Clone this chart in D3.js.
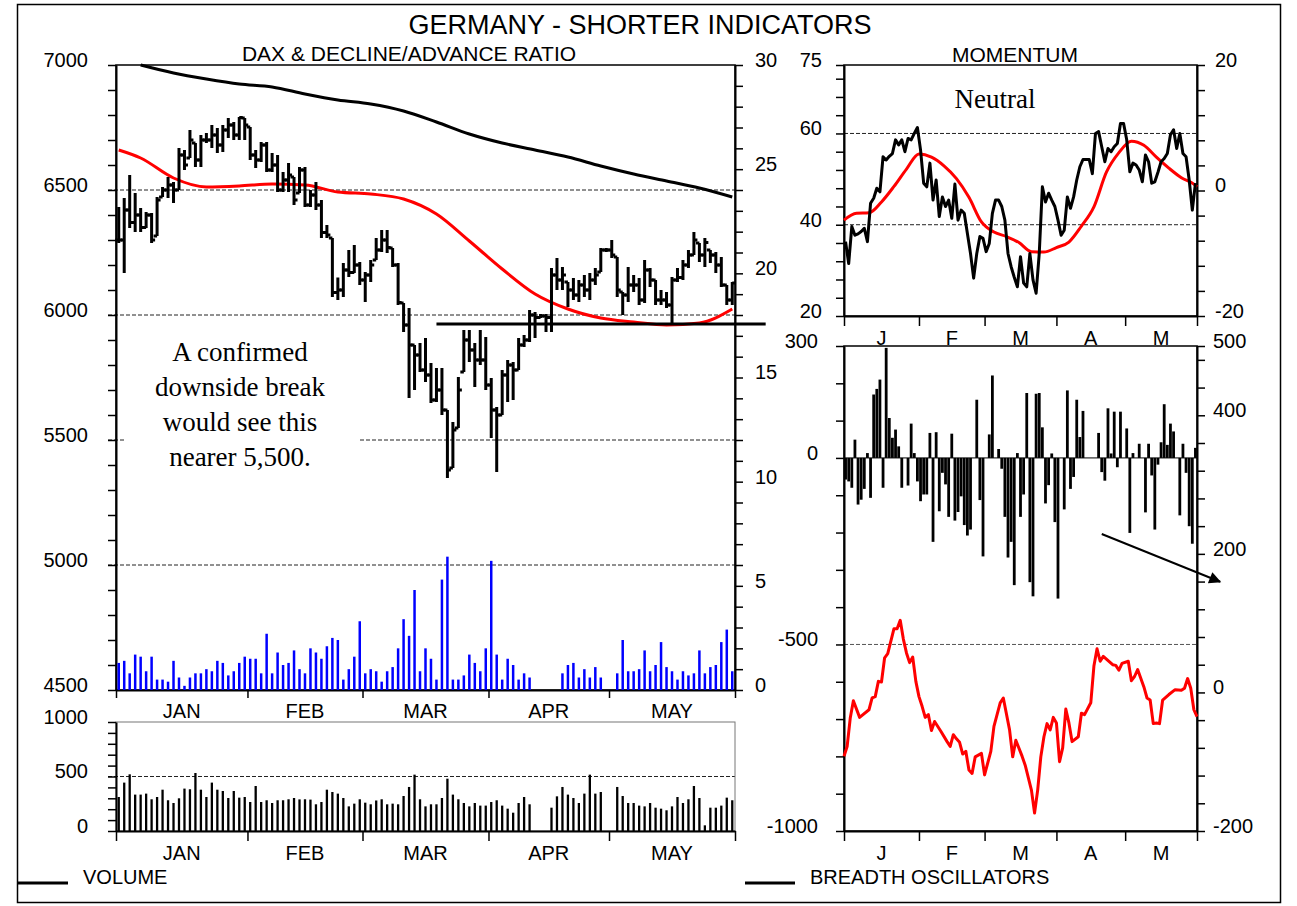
<!DOCTYPE html>
<html>
<head>
<meta charset="utf-8">
<script src="https://cdn.jsdelivr.net/npm/d3@7"></script>
<style>
  body { margin: 0; background: #fff; }
  svg text { font-family: "Liberation Sans", Arial, sans-serif; fill: #000; }
  .serif { font-family: "Liberation Serif", "Times New Roman", serif !important; }
</style>
</head>
<body>
<script>
// ---- data ----
var monthNames = ["JAN", "FEB", "MAR", "APR", "MAY"];
var monthLetters = ["J", "F", "M", "A", "M"];
var monthDays = [24, 21, 23, 22, 23];   // trading days per month

// DAX daily bars
var daxHigh = [6432,6468,6560,6488,6428,6412,6408,6472,6512,6552,6532,6668,6660,6740,6688,6720,6728,6760,6748,6760,
  6788,6772,6792,6788,6752,6660,6692,6692,6648,6640,6572,6608,6552,6592,6592,6500,6532,6460,6360,6308,
  6150,6208,6260,6280,6212,6172,6220,6308,6340,6340,6268,6208,6048,6028,5880,5888,5908,5808,5788,5788,
  5620,5572,5752,5940,5940,5888,5940,5912,5748,5632,5780,5820,5812,5908,5920,6020,6012,6004,6004,6188,
  6228,6192,6132,6148,6140,6160,6168,6188,6268,6268,6300,6232,6092,6192,6160,6148,6220,6188,6140,6100,
  6092,6152,6188,6220,6260,6332,6288,6308,6260,6252,6232,6120,6132];
var daxLow = [6288,6168,6348,6332,6332,6348,6288,6316,6472,6468,6448,6500,6580,6628,6592,6592,6688,6668,6648,6652,
  6708,6700,6700,6700,6620,6588,6612,6572,6572,6492,6492,6492,6440,6488,6432,6432,6420,6308,6308,6072,
  6060,6072,6152,6168,6120,6052,6132,6220,6252,6248,6192,6040,5932,5668,5700,5772,5732,5648,5652,5600,
  5348,5388,5548,5772,5812,5712,5800,5700,5508,5372,5600,5652,5660,5780,5872,5892,5908,5988,5932,5932,
  6100,6100,6032,6060,6052,6072,6060,6120,6172,6252,6228,6072,6000,6052,6092,6040,6048,6112,6040,6040,
  6028,5960,6132,6140,6188,6240,6212,6192,6208,6168,6112,6040,6040];
var daxClose = [6300,6420,6370,6400,6350,6400,6300,6460,6500,6520,6500,6640,6600,6700,6620,6700,6700,6720,6680,6740,
  6760,6720,6790,6760,6640,6620,6680,6580,6600,6500,6540,6560,6460,6580,6440,6480,6440,6330,6320,6090,
  6100,6180,6170,6200,6140,6160,6200,6260,6300,6270,6200,6050,5960,5880,5840,5780,5760,5660,5700,5620,
  5380,5540,5700,5900,5860,5820,5820,5720,5620,5600,5760,5800,5780,5880,5900,6000,5990,5996,5990,6160,
  6140,6160,6100,6080,6120,6100,6140,6160,6260,6260,6240,6100,6080,6120,6120,6060,6180,6140,6060,6060,
  6040,6140,6150,6200,6240,6300,6240,6290,6240,6200,6120,6060,6128];

// moving averages, sampled on these days
var maDays = [0,4,10,16,22,28,34,40,46,52,58,64,70,76,82,88,94,100,106,112];
var maLong = [null,7000,6968,6944,6924,6912,6884,6860,6844,6816,6772,6724,6688,6660,6632,6596,6564,6536,6508,6472];
var maShort = [6660,6628,6548,6512,6516,6524,6520,6492,6484,6464,6404,6296,6184,6084,6024,5988,5972,5960,5968,6024];

// support level
var supportLevel = 5964;
var supportFrom = 58.5, supportTo = 118.6;

// decline / advance ratio (right scale)
var daRatio = [1.3,1.4,0.8,1.7,1.6,0.9,1.6,0.5,0.5,0.4,1.4,0.6,
  0.2,0.6,0.8,0.8,1.0,0.9,1.4,1.3,0.7,0.9,1.3,1.6,1.5,1.5,0.8,2.7,0.8,1.8,1.2,1.3,1.9,1.0,
  0.8,2.0,1.8,1.5,2.1,2.5,2.4,0.5,1.0,1.6,3.3,0.8,1.0,0.9,
  0.4,0.9,1.1,2.0,3.4,2.6,4.8,0.9,2.0,1.5,0.5,5.3,6.4,0.5,0.5,0.7,1.7,1.3,0.9,2.0,6.2,1.7,0.5,1.5,1.2,0.5,0.8,0.6,
  null,null,null,null,null,
  0.8,1.2,1.3,0.6,1.0,0.6,1.1,0.6,null,null,
  0.8,2.4,0.9,0.9,1.0,1.9,0.9,1.2,2.3,1.1,0.9,0.5,0.9,0.7,0.8,1.9,0.8,1.1,1.2,2.3,2.9,0.9];

// volume
var volume = [312,444,520,334,334,343,291,312,379,282,257,300,
  389,383,532,379,312,444,379,367,303,367,306,312,266,413,266,282,257,282,282,291,303,290,
  291,288,245,266,379,358,343,303,226,251,291,260,245,280,
  291,245,251,245,321,404,517,291,226,245,245,303,480,334,291,257,226,257,233,233,266,282,233,205,168,257,312,245,
  null,null,null,
  214,318,404,334,303,257,343,517,343,358,null,null,
  404,321,257,257,233,226,257,214,205,190,226,312,257,291,413,303,52,214,214,233,306,282];

// momentum (left scale) and its average
var momentum = [36.3,31.5,39.6,37.7,38.0,38.5,39.2,36.3,44.7,45.8,
  48.0,47.2,54.9,54.2,55.0,55.6,58.6,57.5,58.6,56.0,
  58.9,58.6,60.0,61.3,56.4,49.1,48.3,53.5,45.4,49.8,
  41.8,46.1,44.0,45.4,41.4,48.9,41.0,43.2,42.5,38.1,
  33.7,28.3,33.7,37.4,37.0,34.1,35.9,42.5,45.4,45.4,
  44.0,41.0,33.7,30.8,28.5,26.4,33.0,27.2,26.4,33.7,
  27.9,25.0,33.7,48.3,45.0,46.9,45.4,44.0,41.0,37.7,
  38.8,46.1,43.6,46.1,49.8,52.7,54.3,54.3,54.3,51.2,
  60.0,60.4,57.1,53.8,56.7,56.0,57.1,57.8,62.2,62.2,
  58.6,51.6,53.5,53.1,52.0,49.4,55.3,53.8,49.1,49.4,
  51.5,53.8,54.5,55.6,59.7,60.8,56.7,60.0,55.6,54.9,
  49.8,43.2,49.1];
var momMaDays = [0,4,8,12,16,20,24,28,32,36,40,44,48,52,56,60,64,68,72,76,80,84,88,92,96,100,104,108,112,113];
var momMa = [41.0,42.5,42.6,45.0,48.4,52.2,55.5,54.8,52.9,50.1,46.0,40.6,38.4,37.4,36.1,34.1,34.0,35.0,36.2,39.7,
  43.9,51.5,55.8,58.3,57.4,54.8,52.4,50.3,48.9,48.3];

// daily breadth (bars, left scale)
var breadthBars = [-58,-63,-80,49,-125,-112,-83,13,-107,170,
  185,210,-80,295,107,54,76,31,-80,null,
  -74,92,13,-63,-116,-98,-98,67,-225,69,
  -143,-40,-71,-158,65,-168,-145,-103,-180,-208,
  -192,null,156,-113,-264,null,63,221,null,24,
  -29,-158,-267,-225,-341,13,-158,-98,174,-333,
  -371,172,174,82,-122,-73,12,-172,-377,null,
  -138,181,-83,-51,156,56,126,null,null,null,
  null,67,-38,-61,133,12,124,-25,124,null,
  79,-201,13,null,38,null,-146,38,-47,-192,
  -18,42,144,35,92,71,null,-154,38,-40,
  -183,-230,27];

// breadth oscillator (line, right scale)
var oscDays = [0,1,2,3,5,8,9,10,11,12,13,14,16,17,18,19,20,21,22,23,24,25,26,27,28,29,31,33,34,35,36,37,38,39,40,41,42,44,45,47,
  48,50,51,53,54,55,57,58,60,61,62,63,64,65,66,67,68,69,70,71,72,73,75,76,77,79,80,81,82,83,84,86,87,88,89,91,92,93,94,96,
  97,98,99,100,101,102,104,106,108,109,110,111,112,113];
var oscValues = [-92,-78,-37,-12,-36,-25,-8,-6,16,15,
  50,56,92,92,104,77,57,43,51,16,
  -6,-20,-36,-32,-55,-42,-56,-71,-78,-61,
  -67,-72,-89,-85,-112,-117,-93,-88,-119,-85,
  -49,-15,-8,-54,-93,-69,-92,-105,-141,-174,
  -141,-93,-64,-45,-54,-36,-44,-100,-80,-24,
  -44,-71,-64,-30,-32,-15,38,63,45,52,
  48,40,39,32,42,45,17,23,33,8,
  -8,-11,-45,-44,-45,-11,-3,4,3,6,
  20,6,-25,-35];

// downward arrow in the breadth panel: [day, value] on the left scale
var arrowFrom = [82.5, -204], arrowTo = [120.4, -332];

// ---- layout ----
var W = 1297, H = 906;
var main = {left: 116, right: 735, top: 65, bottom: 690};
var vol  = {left: 116, right: 735, top: 722, bottom: 831};
var mom  = {left: 844, right: 1197, top: 65, bottom: 316};
var brd  = {left: 844, right: 1197, top: 346, bottom: 831};

var monthStart = [0];
monthDays.forEach(function(n, i) { monthStart.push(monthStart[i] + n); });
var monthMid = monthDays.map(function(n, i) { return monthStart[i] + n / 2; });
var nDays = monthStart[monthStart.length - 1];

var svg = d3.select("body").append("svg")
    .attr("width", W)
    .attr("height", H);

svg.append("rect").attr("width", W).attr("height", H).attr("fill", "white");
svg.append("rect")
    .attr("x", 17.5).attr("y", 4.5)
    .attr("width", 1263).attr("height", 898)
    .attr("fill", "none").attr("stroke", "black").attr("stroke-width", 1.5);

// scales
var xMain = d3.scaleLinear().domain([0, nDays]).range([main.left, main.right]);
var xSide = d3.scaleLinear().domain([0, nDays]).range([mom.left, mom.right]);
var yDax = d3.scaleLinear().domain([4500, 7000]).range([main.bottom, main.top]);
var yRatio = d3.scaleLinear().domain([0, 30]).range([main.bottom, main.top]);
var yVol = d3.scaleLinear().domain([0, 1000]).range([vol.bottom, vol.top]);
var yMom = d3.scaleLinear().domain([20, 75]).range([mom.bottom, mom.top]);
var yMomR = d3.scaleLinear().domain([-20, 20]).range([mom.bottom, mom.top]);
var yBrd = d3.scaleLinear().domain([-1000, 300]).range([brd.bottom, brd.top]);
var yBrdR = d3.scaleLinear().domain([-200, 500]).range([brd.bottom, brd.top]);

// ---- helpers ----
function hline(y, x1, x2, dashed, color) {
    svg.append("line")
        .attr("x1", x1).attr("x2", x2).attr("y1", y).attr("y2", y)
        .attr("stroke", color || "#222").attr("stroke-width", 1)
        .attr("stroke-dasharray", dashed ? "4,2" : null);
}

function yAxis(axisFn, scale, x, ticks, labels, pad) {
    var g = svg.append("g")
        .attr("transform", "translate(" + x + ",0)")
        .call(axisFn(scale).tickValues(ticks).tickSize(8).tickSizeOuter(0).tickPadding(pad)
            .tickFormat(function(d) { return labels.indexOf(d) >= 0 ? String(d) : ""; }));
    g.attr("font-size", 20).attr("font-family", null);
    g.select(".domain").attr("stroke-width", 2);
    g.selectAll(".tick line").attr("stroke-width", 1.5);
    g.selectAll("text").attr("y", -5);
    return g;
}

function monthAxis(xScale, y, size) {
    var g = svg.append("g")
        .attr("transform", "translate(0," + y + ")")
        .call(d3.axisBottom(xScale).tickValues(monthStart).tickSize(size).tickSizeOuter(0).tickFormat(""));
    g.select(".domain").attr("stroke-width", 2);
    g.selectAll(".tick line").attr("stroke-width", 1.5);
}

function monthLabels(xScale, names, y) {
    svg.append("g").selectAll("text").data(names).enter().append("text")
        .attr("x", function(d, i) { return xScale(monthMid[i]); })
        .attr("y", y)
        .attr("text-anchor", "middle")
        .attr("font-size", 20)
        .text(function(d) { return d; });
}

function range(a, b, step) { return d3.range(a, b + step / 2, step); }

function stems(values, xScale, yScale, color, width) {
    var g = svg.append("g").attr("stroke", color).attr("stroke-width", width);
    values.forEach(function(v, i) {
        if (v == null) return;
        g.append("line")
            .attr("x1", xScale(i + 0.5)).attr("x2", xScale(i + 0.5))
            .attr("y1", yScale(0)).attr("y2", yScale(v));
    });
}

// ---- titles ----
svg.append("text").attr("x", 640).attr("y", 34).attr("text-anchor", "middle")
    .attr("font-size", 27).text("GERMANY - SHORTER INDICATORS");
svg.append("text").attr("x", 409).attr("y", 61).attr("text-anchor", "middle")
    .attr("font-size", 21).text("DAX & DECLINE/ADVANCE RATIO");
svg.append("text").attr("x", 1015).attr("y", 62).attr("text-anchor", "middle")
    .attr("font-size", 21).text("MOMENTUM");

// ================= main DAX panel =================
[6500, 6000, 5500, 5000].forEach(function(v) { hline(yDax(v), main.left - 8, main.right, true); });

// white box behind the annotation
svg.append("rect").attr("x", 125).attr("y", 330).attr("width", 233).attr("height", 146).attr("fill", "white");

svg.append("rect")
    .attr("x", main.left).attr("y", main.top)
    .attr("width", main.right - main.left).attr("height", main.bottom - main.top)
    .attr("fill", "none").attr("stroke", "black").attr("stroke-width", 1.5);

yAxis(d3.axisLeft, yDax, main.left, range(4500, 7000, 100), [4500, 5000, 5500, 6000, 6500, 7000], 20);
yAxis(d3.axisRight, yRatio, main.right, range(0, 30, 1), [0, 5, 10, 15, 20, 25, 30], 12);
monthAxis(xMain, main.bottom, 8);
monthLabels(xMain, monthNames, 718);

// decline/advance ratio bars
stems(daRatio, xMain, yRatio, "#0000ff", 2.5);

// moving averages
var maLine = function(values, color) {
    var line = d3.line()
        .defined(function(d) { return d != null; })
        .x(function(d, i) { return xMain(maDays[i] + 0.5); })
        .y(function(d) { return yDax(d); })
        .curve(d3.curveMonotoneX);
    svg.append("path").datum(values)
        .attr("d", line).attr("fill", "none")
        .attr("stroke", color).attr("stroke-width", 3);
};
maLine(maLong, "black");
maLine(maShort, "#ff0000");

// OHLC-style bars (left tick at the previous close)
var barG = svg.append("g").attr("stroke", "black").attr("stroke-width", 3).attr("fill", "none");
daxHigh.forEach(function(h, i) {
    var x = xMain(i + 0.5);
    var lo = daxLow[i];
    var prev = i > 0 ? daxClose[i - 1] : daxClose[i];
    prev = Math.max(lo, Math.min(h, prev));
    barG.append("path").attr("d",
        "M" + x + "," + yDax(h) + "V" + yDax(lo) +
        "M" + (x - 3.5) + "," + yDax(prev) + "H" + x +
        "M" + x + "," + yDax(daxClose[i]) + "H" + (x + 3.5));
});

// support line
svg.append("line")
    .attr("x1", xMain(supportFrom)).attr("x2", xMain(supportTo))
    .attr("y1", yDax(supportLevel)).attr("y2", yDax(supportLevel))
    .attr("stroke", "black").attr("stroke-width", 3);

// annotation
var note = ["A confirmed", "downside break", "would see this", "nearer 5,500."];
svg.append("g").selectAll("text").data(note).enter().append("text")
    .attr("class", "serif")
    .attr("x", 240).attr("y", function(d, i) { return 361 + i * 35; })
    .attr("text-anchor", "middle").attr("font-size", 27)
    .text(function(d) { return d; });

// ================= volume panel =================
hline(yVol(500), vol.left - 8, vol.right, true);
svg.append("rect")
    .attr("x", vol.left).attr("y", vol.top)
    .attr("width", vol.right - vol.left).attr("height", vol.bottom - vol.top)
    .attr("fill", "none").attr("stroke", "#777").attr("stroke-width", 1);
stems(volume, xMain, yVol, "black", 2.3);
yAxis(d3.axisLeft, yVol, vol.left, range(0, 1000, 100), [0, 500, 1000], 20);
monthAxis(xMain, vol.bottom, 10);
monthLabels(xMain, monthNames, 860);

// ================= momentum panel =================
hline(yMom(60), mom.left, mom.right, true);
hline(yMom(40), mom.left, mom.right, true);
svg.append("rect")
    .attr("x", mom.left).attr("y", mom.top)
    .attr("width", mom.right - mom.left).attr("height", mom.bottom - mom.top)
    .attr("fill", "none").attr("stroke", "black").attr("stroke-width", 1.5);
yAxis(d3.axisLeft, yMom, mom.left, range(20, 72, 4).concat([75]), [20, 40, 60, 75], 14);
yAxis(d3.axisRight, yMomR, mom.right, range(-20, 20, 4), [-20, 0, 20], 10);
monthAxis(xSide, mom.bottom, 10);
monthLabels(xSide, monthLetters, 345);

svg.append("text").attr("class", "serif")
    .attr("x", 995).attr("y", 108).attr("text-anchor", "middle")
    .attr("font-size", 27).text("Neutral");

svg.append("path").datum(momMa)
    .attr("d", d3.line()
        .x(function(d, i) { return xSide(momMaDays[i]); })
        .y(function(d) { return yMom(d); })
        .curve(d3.curveMonotoneX))
    .attr("fill", "none").attr("stroke", "#ff0000").attr("stroke-width", 3);
svg.append("path").datum(momentum)
    .attr("d", d3.line()
        .x(function(d, i) { return xSide(i + 0.5); })
        .y(function(d) { return yMom(d); }))
    .attr("fill", "none").attr("stroke", "black").attr("stroke-width", 3)
    .attr("stroke-linejoin", "round");

// ================= breadth panel =================
hline(yBrd(-500), brd.left, brd.right, true, "#555");
hline(yBrd(0), brd.left, brd.right, false, "black");
svg.append("rect")
    .attr("x", brd.left).attr("y", brd.top)
    .attr("width", brd.right - brd.left).attr("height", brd.bottom - brd.top)
    .attr("fill", "none").attr("stroke", "black").attr("stroke-width", 1.5);
yAxis(d3.axisLeft, yBrd, brd.left, range(-1000, 300, 100), [-1000, -500, 0, 300], 18);
yAxis(d3.axisRight, yBrdR, brd.right, range(-200, 480, 40).concat([500]), [-200, 0, 200, 400, 500], 8);
monthAxis(xSide, brd.bottom, 10);
monthLabels(xSide, monthLetters, 860);

stems(breadthBars, xSide, yBrd, "black", 2.8);

svg.append("path").datum(oscValues)
    .attr("d", d3.line()
        .x(function(d, i) { return xSide(oscDays[i]); })
        .y(function(d) { return yBrdR(d); }))
    .attr("fill", "none").attr("stroke", "#ff0000").attr("stroke-width", 3)
    .attr("stroke-linejoin", "round");

// arrow
svg.append("defs").append("marker")
    .attr("id", "arrowhead").attr("viewBox", "0 0 10 10")
    .attr("refX", 9).attr("refY", 5)
    .attr("markerWidth", 18).attr("markerHeight", 12)
    .attr("markerUnits", "userSpaceOnUse")
    .attr("orient", "auto")
    .append("path").attr("d", "M0,0L10,5L0,10Z").attr("fill", "black");
svg.append("line")
    .attr("x1", xSide(arrowFrom[0])).attr("y1", yBrd(arrowFrom[1]))
    .attr("x2", xSide(arrowTo[0])).attr("y2", yBrd(arrowTo[1]))
    .attr("stroke", "black").attr("stroke-width", 2)
    .attr("marker-end", "url(#arrowhead)");

// ================= legend =================
svg.append("line").attr("x1", 18).attr("x2", 68).attr("y1", 883).attr("y2", 883)
    .attr("stroke", "black").attr("stroke-width", 3);
svg.append("text").attr("x", 83).attr("y", 884).attr("font-size", 20).text("VOLUME");
svg.append("line").attr("x1", 745).attr("x2", 795).attr("y1", 883).attr("y2", 883)
    .attr("stroke", "black").attr("stroke-width", 3);
svg.append("text").attr("x", 810).attr("y", 884).attr("font-size", 20).text("BREADTH OSCILLATORS");
</script>
</body>
</html>
